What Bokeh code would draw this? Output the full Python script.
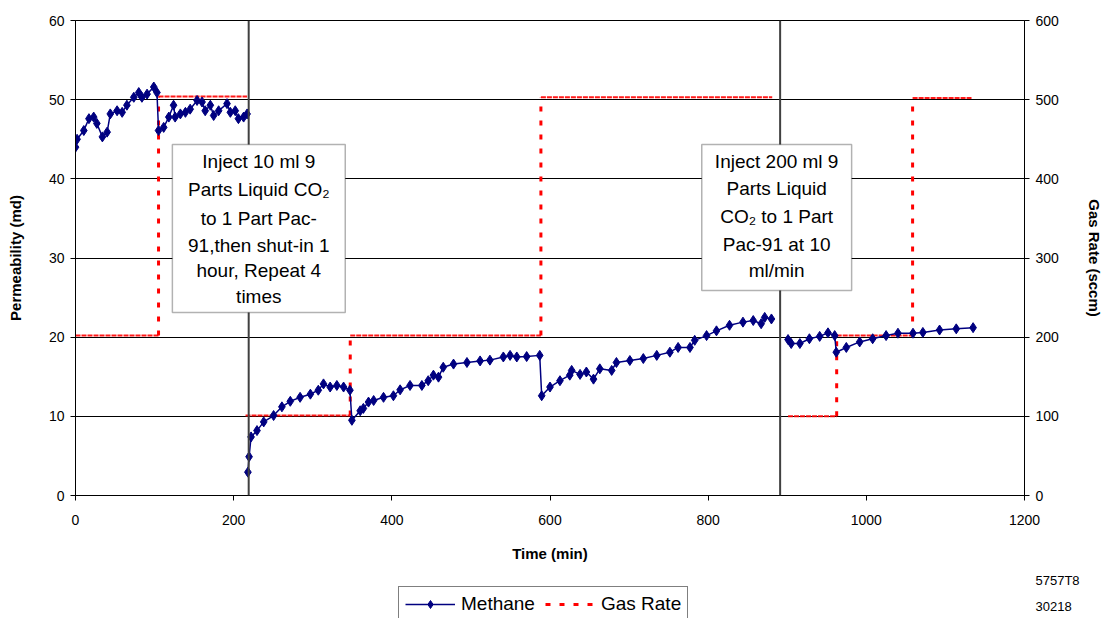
from bokeh.plotting import figure
from bokeh.models import (Range1d, LinearAxis, SingleIntervalTicker, Span, BoxAnnotation,
                          Label, Legend, LegendItem)
from bokeh.embed import file_html
from bokeh.resources import INLINE

# ---------------- data ----------------
# Methane permeability (md) vs time (min); None marks a break in the record
methane_time = [0, 2, 10.5, 17, 23, 27, 34, 40, 44, 52.6, 59, 65, 73.7, 80, 84, 90.5, 99, 103,
                105, 111.5, 118, 124, 126, 132.6, 139, 145, 153.7, 160, 164, 170.5, 174.7, 181,
                191.6, 195.8, 202, 206, 212.6, 217,
                None,
                218, 219.5, 222, 229.5, 238, 250.5, 261, 271.6, 284, 297, 307, 313.6, 322, 330.5,
                339, 347, 349.5, 360, 364, 370.5, 377, 389.5, 402, 410.5, 423, 438, 446, 452.6,
                459, 465, 478, 495, 511.6, 524, 541, 549.5, 558, 570.5, 587,
                589.5, 600, 612.6, 625, 627.4, 638, 646, 655, 663, 678, 684, 701, 718, 735, 751.6,
                762, 777, 783, 798, 810.5, 827, 844, 857, 867, 871.5, 880,
                None,
                901, 905, 916, 928, 941, 951.5, 960, 962, 974.7, 991.6, 1008, 1025, 1040, 1059,
                1071.5, 1092.6, 1113.7, 1135]
methane_perm = [44.0, 45.0, 46.1, 47.6, 47.8, 47.0, 45.3, 45.9, 48.2, 48.6, 48.4, 49.3, 50.3, 50.9,
                50.3, 50.7, 51.6, 50.9,
                46.1, 46.5, 47.8, 49.3, 47.8, 48.2, 48.4, 48.8, 49.9, 49.7, 48.6, 49.3, 48.0, 48.6,
                49.5, 48.4, 48.6, 47.6, 47.8, 48.2,
                None,
                2.95, 4.9, 7.4, 8.2, 9.3, 10.1, 11.2, 11.9, 12.4, 12.8, 13.3, 14.1, 13.7, 13.9,
                13.7, 13.3, 9.5, 10.7, 11.0, 11.8, 12.0, 12.4, 12.6, 13.35, 13.9, 13.9, 14.5, 15.2,
                14.95, 16.2, 16.6, 16.8, 17.0, 17.1, 17.5, 17.7, 17.5, 17.55, 17.7,
                12.6, 13.7, 14.5, 15.2, 15.8, 15.3, 15.6, 14.7, 16.0, 15.8, 16.8, 17.05, 17.3, 17.7,
                18.1, 18.7, 18.7, 19.6, 20.2, 20.8, 21.5, 21.9, 22.1, 21.7, 22.5, 22.3,
                None,
                19.7, 19.2, 19.2, 19.8, 20.1, 20.55, 20.2, 18.1, 18.7, 19.4, 19.8, 20.2, 20.5, 20.5,
                20.6, 20.9, 21.05, 21.2]

# Gas rate (sccm) plateaus
gas_start = [0, 105, 215, 347.4, 588.5, 901, 962.5, 1058.5]
gas_end = [105, 217, 347.4, 588.5, 881, 962.5, 1058.5, 1133]
gas_rate = [202, 504, 101, 202, 503, 100, 202, 502]

# Event markers (min)
event_times = [219, 891]

left_label = "Permeability (md)"
right_label = "Gas Rate (sccm)"
bottom_label = "Time (min)"
series_names = ["Methane", "Gas Rate"]

box1_lines = ["Inject 10 ml 9", "Parts Liquid CO\u2082", "to 1 Part Pac-",
              "91,then shut-in 1", "hour, Repeat 4", "times"]
box2_lines = ["Inject 200 ml 9", "Parts Liquid", "CO\u2082 to 1 Part",
              "Pac-91 at 10", "ml/min"]
ref_codes = ["5757T8", "30218"]

FONT = "Liberation Sans"
NAVY = "#000080"
RED = "#ff0000"
NAN = float("nan")

# ---------------- main figure ----------------
p = figure(width=1105, height=570, output_backend="svg", toolbar_location=None,
           x_range=Range1d(0, 1200), y_range=Range1d(0, 60),
           min_border_left=75, min_border_right=80, min_border_top=20, min_border_bottom=75)
p.extra_y_ranges = {"gas": Range1d(0, 600)}
p.background_fill_color = "white"
p.border_fill_color = "white"
p.outline_line_color = "black"

p.xgrid.grid_line_color = None
p.ygrid.grid_line_color = "black"
p.ygrid.grid_line_width = 1

p.xaxis.ticker = SingleIntervalTicker(interval=200)
p.yaxis.ticker = SingleIntervalTicker(interval=10)

right_axis = LinearAxis(y_range_name="gas", ticker=SingleIntervalTicker(interval=100))
p.add_layout(right_axis, "right")

for ax in [p.xaxis[0], p.yaxis[0], right_axis]:
    ax.axis_line_color = "black"
    ax.major_tick_line_color = "black"
    ax.major_tick_out = 5
    ax.major_tick_in = 0
    ax.minor_tick_line_color = None
    ax.major_label_text_font = FONT
    ax.major_label_text_font_size = "14px"
    ax.major_label_text_color = "black"
    ax.axis_label_text_font = FONT
    ax.axis_label_text_font_size = "15px"
    ax.axis_label_text_font_style = "bold"
    ax.axis_label_text_color = "black"

p.xaxis.axis_label = bottom_label
p.xaxis.major_label_standoff = 14
p.xaxis.axis_label_standoff = 17
p.yaxis[0].axis_label = left_label
p.yaxis[0].major_label_standoff = 6
p.yaxis[0].axis_label_standoff = 22
right_axis.axis_label = right_label
right_axis.major_label_standoff = 6
right_axis.axis_label_standoff = 24

# event lines
for t in event_times:
    p.add_layout(Span(location=t, dimension="height", line_color="#404040", line_width=2))

# gas rate plateaus and transitions
p.segment(x0=gas_start, y0=gas_rate, x1=gas_end, y1=gas_rate, y_range_name="gas",
          line_color=RED, line_width=2, line_dash="5 1", line_alpha=0.9)
tr_t, tr_from, tr_to = [], [], []
for i in range(len(gas_start) - 1):
    if abs(gas_end[i] - gas_start[i + 1]) < 1e-6:
        tr_t.append(gas_end[i])
        tr_from.append(gas_rate[i])
        tr_to.append(gas_rate[i + 1])
p.segment(x0=tr_t, y0=tr_from, x1=tr_t, y1=tr_to, y_range_name="gas",
          line_color=RED, line_width=3, line_dash="5 9")

# methane
mt = [NAN if v is None else v for v in methane_time]
mp = [NAN if v is None else v for v in methane_perm]
p.line(mt, mp, line_color=NAVY, line_width=1.5)
p.scatter([a for a in methane_time if a is not None],
          [b for b in methane_perm if b is not None],
          marker="diamond", size=10, fill_color=NAVY, line_color=NAVY)

# annotation boxes
p.add_layout(BoxAnnotation(left=122.5, right=341.1, bottom=23.12, top=44.34,
                           fill_color="white", fill_alpha=1, line_color="black", line_width=1.5))
p.add_layout(BoxAnnotation(left=791.9, right=981.4, bottom=25.9, top=44.34,
                           fill_color="white", fill_alpha=1, line_color="black", line_width=1.5))
box1_y = [42.19, 38.65, 35.0, 31.58, 28.42, 25.14]
box2_y = [42.19, 38.78, 35.24, 31.70, 28.42]
for txt, yy in zip(box1_lines, box1_y):
    p.add_layout(Label(x=231.8, y=yy, text=txt, text_align="center", text_baseline="middle",
                       text_font=FONT, text_font_size="19px", text_color="black"))
for txt, yy in zip(box2_lines, box2_y):
    p.add_layout(Label(x=886.6, y=yy, text=txt, text_align="center", text_baseline="middle",
                       text_font=FONT, text_font_size="19px", text_color="black"))

# ---------------- bottom strip: legend and reference codes ----------------
p2 = figure(width=1105, height=48, output_backend="svg", toolbar_location=None,
            x_range=Range1d(0, 1105), y_range=Range1d(0, 48),
            min_border_left=0, min_border_right=0, min_border_top=0, min_border_bottom=0)
p2.axis.visible = False
p2.grid.visible = False
p2.outline_line_color = None
p2.background_fill_color = "white"
p2.border_fill_color = "white"

# legend proxies (no visible data)
lg_line = p2.line([NAN], [NAN], line_color=NAVY, line_width=1.5)
lg_pts = p2.scatter([NAN], [NAN], marker="diamond", size=10, fill_color=NAVY, line_color=NAVY)
lg_gas = p2.line([NAN], [NAN], line_color=RED, line_width=3, line_dash="5 9")

legend = Legend(items=[LegendItem(label=series_names[0], renderers=[lg_line, lg_pts]),
                       LegendItem(label=series_names[1], renderers=[lg_gas])],
                orientation="horizontal", location=(398, -4),
                label_text_font=FONT, label_text_font_size="19px", label_text_color="black",
                border_line_color="black", border_line_width=1,
                background_fill_color="white", background_fill_alpha=1,
                glyph_width=50, spacing=10, padding=6, margin=0, label_standoff=6)
p2.add_layout(legend, "center")

for txt, yy in zip(ref_codes, [38, 12]):
    p2.add_layout(Label(x=1035, y=yy, text=txt, text_align="left", text_baseline="middle",
                        text_font=FONT, text_font_size="13px", text_color="black"))

open("out.html", "w").write(file_html([p, p2], INLINE))
